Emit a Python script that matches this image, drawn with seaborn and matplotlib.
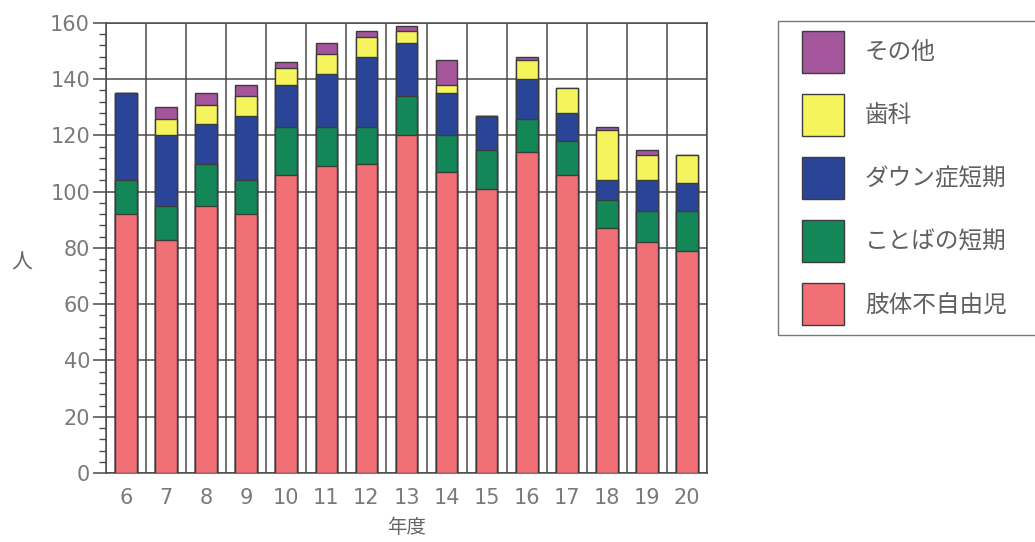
import numpy as np
import pandas as pd
import matplotlib
matplotlib.use("Agg")
import matplotlib.pyplot as plt
from matplotlib.patches import Patch, Rectangle
from matplotlib.legend_handler import HandlerPatch
from matplotlib.ticker import MultipleLocator, FixedLocator
import seaborn as sns

# 年度 (fiscal year) categories
years = ["6", "7", "8", "9", "10", "11", "12", "13", "14", "15", "16", "17", "18", "19", "20"]

# Stack layers, bottom to top
shitai = [92, 83, 95, 92, 106, 109, 110, 120, 107, 101, 114, 106, 87, 82, 79]   # 肢体不自由児
kotoba = [12, 12, 15, 12, 17, 14, 13, 14, 13, 14, 12, 12, 10, 11, 14]          # ことばの短期
down = [31, 25, 14, 23, 15, 19, 25, 19, 15, 12, 14, 10, 7, 11, 10]             # ダウン症短期
shika = [0, 6, 7, 7, 6, 7, 7, 4, 3, 0, 7, 9, 18, 9, 10]                         # 歯科
sonota = [0, 4, 4, 4, 2, 4, 2, 2, 9, 0, 1, 0, 1, 2, 0]                          # その他

series_names = ["肢体不自由児", "ことばの短期", "ダウン症短期", "歯科", "その他"]
series_values = [shitai, kotoba, down, shika, sonota]
series_colors = ["#F07075", "#138758", "#2A4597", "#F6F45C", "#A4559C"]

y_ticks = [0, 20, 40, 60, 80, 100, 120, 140, 160]

sns.set_theme(style="white")
plt.rcParams["font.family"] = ["Noto Sans CJK JP", "DejaVu Sans"]

fig = plt.figure(figsize=(10.35, 5.42), dpi=100)
ax = fig.add_axes([0.1024, 0.1273, 0.5807, 0.8303])

# Cumulative totals, drawn from the top layer down so each layer overlays the next
df = pd.DataFrame({name: vals for name, vals in zip(series_names, series_values)}, index=years)
cum = df.cumsum(axis=1)
edge = "#3c3c3c"
for name, color in reversed(list(zip(series_names, series_colors))):
    sns.barplot(x=years, y=cum[name].values, order=years, color=color, saturation=1,
                width=0.54, edgecolor=edge, linewidth=1.0, ax=ax, zorder=3)

ax.set_xlim(-0.5, len(years) - 0.5)
ax.set_ylim(0, 160)

grid_col = "#4a4a4a"
tick_col = "#7a7a7a"
# horizontal grid at every 20
ax.yaxis.set_major_locator(FixedLocator(y_ticks))
ax.yaxis.set_minor_locator(MultipleLocator(4))
ax.grid(axis="y", which="major", color=grid_col, linewidth=1.1, zorder=1)
# vertical grid at category boundaries
ax.xaxis.set_minor_locator(FixedLocator(np.arange(-0.5, len(years), 1.0)))
ax.grid(axis="x", which="minor", color=grid_col, linewidth=1.1, zorder=1)
ax.set_axisbelow(True)

for s in ax.spines.values():
    s.set_color(grid_col)
    s.set_linewidth(1.1)

ax.tick_params(axis="x", which="major", length=0, pad=11, labelsize=15,
               labelcolor=tick_col, labelfontfamily="DejaVu Sans")
ax.tick_params(axis="x", which="minor", length=9.5, width=1.1, color=grid_col, direction="out")
ax.tick_params(axis="y", which="major", length=9.5, width=1.1, color=grid_col, direction="out",
               pad=2, labelsize=15, labelcolor=tick_col, labelfontfamily="DejaVu Sans", left=True)
ax.tick_params(axis="y", which="minor", length=5, width=1.0, color=grid_col, direction="out", left=True)
ax.set_yticklabels([str(t) for t in y_ticks])

ax.set_ylabel("人", rotation=0, fontsize=15, color="#666666", va="center")
ax.yaxis.set_label_coords(-0.14, 0.468)
ax.set_xlabel("年度", fontsize=14, color="#666666")
ax.xaxis.set_label_coords(0.5, -0.098)

# Legend swatches: fixed-size squares, inset from the left of the handle box
SWATCH = 30.2   # points
INSET = 10.0    # points


def square_swatch(legend, orig_handle, xdescent, ydescent, width, height, fontsize):
    y0 = -ydescent + (height - SWATCH) / 2
    return Rectangle((-xdescent + INSET, y0), SWATCH, SWATCH)


handles = [Patch(facecolor=c, edgecolor=edge, linewidth=1.0, label=n)
           for n, c in reversed(list(zip(series_names, series_colors)))]
leg = fig.legend(handles=handles, loc="upper left",
                 bbox_to_anchor=(0.752, 0.0, 0.26, 0.961), mode="expand",
                 handler_map={Patch: HandlerPatch(patch_func=square_swatch)},
                 fontsize=17, handlelength=2.4, handleheight=2.36,
                 labelspacing=0.89, handletextpad=0.85, borderpad=0.42,
                 borderaxespad=0.0, frameon=True, fancybox=False)
leg.get_frame().set_edgecolor("#555555")
leg.get_frame().set_linewidth(1.0)
for t in leg.get_texts():
    t.set_color("#606060")

fig.savefig("out.png", dpi=100, facecolor="white")
